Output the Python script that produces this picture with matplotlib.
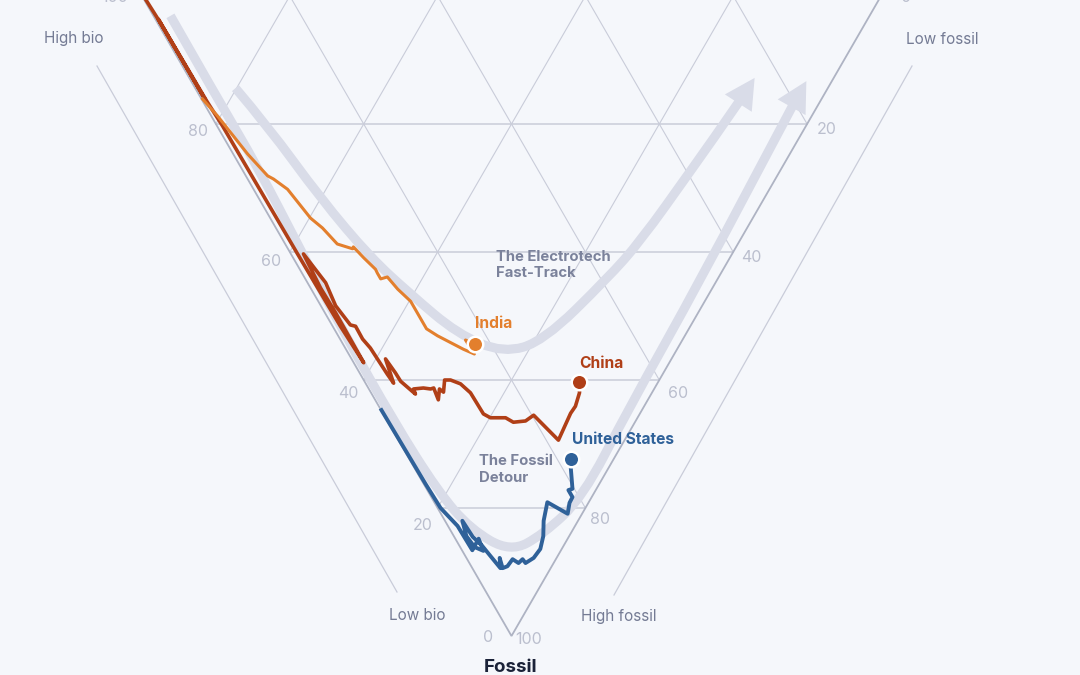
import matplotlib.pyplot as plt
from matplotlib.path import Path
from matplotlib.patches import PathPatch, Polygon
import numpy as np

# shares in percent, electrotech is the rest
china_fossil = [0, 3.44, 16.25, 3.6, 16.4, 20.3, 40.3, 51.6, 57.3, 49.5, 45.6, 40.3, 44.8, 48.4, 51.4, 51.6, 53.6, 55, 59.1, 60.5,
                56.7, 58.9, 60.2, 62.2, 61.4, 61.25, 61.4, 61.25, 63.1, 61.4, 61.9, 60, 60, 60.6, 62, 65.3, 65.9, 65.9, 66.6, 66.4,
                65.5, 69.4, 65.2, 64.1, 62, 60.3]
china_bio = [99.8, 96.2, 83.3, 96.0, 83.05, 78.95, 58.8, 47.35, 41.35, 49.05, 53.05, 58.0, 52.75, 49.6, 46.1, 45.3, 43.35, 41.6, 37.25, 35.7,
             38.7, 36.25, 34.9, 31.9, 32.55, 31.3, 30.25, 29.9, 28.35, 29.05, 28.25, 29.05, 28.25, 26.6, 24.55, 21.15, 19.9, 17.85, 16.45, 14.9,
             14.25, 8.95, 9.4, 9.3, 9.8, 10.65]

india_fossil = [16.1, 18.75, 24.7, 28.1, 28.6, 30.2, 34.7, 36.25, 38.75, 39.5, 39.2, 40.9, 42.7, 43.3, 44.2, 43.9, 45.8, 47.7, 52, 53.1,
                55.2, 55.94, 53.75, 54.4]
india_bio = [83.75, 80.4, 73.35, 68.95, 67.9, 65.2, 59.85, 57.45, 54.2, 51.75, 51.8, 49.55, 47.05, 46.5, 45.6, 44.85, 42.5, 39.8, 35.5, 33.45,
             28.9, 27.05, 29.35, 27.7]

us_fossil = [64.7, 76.25, 80, 82.8, 86.6, 84.8, 86.7, 86.1, 84.4, 82, 84.5, 85.8, 87.5, 89.4, 87.8, 89.4, 89.1, 88, 88.6, 88,
             88.6, 87.8, 86.4, 84.4, 82, 79.1, 80.9, 79.2, 78.3, 77.2, 77, 73.75, 72.35]
us_bio = [35.25, 23.5, 19.6, 15.9, 12, 12.05, 10.45, 11.95, 13.9, 15.65, 13, 11.15, 9.1, 6.8, 7.7, 6.5, 6, 5.85, 4.75, 4.5,
          3.8, 3.1, 2.9, 3.5, 4.65, 5.6, 1.95, 2.55, 2.6, 3.7, 3.25, 5.1, 5.8]

# the two pale guide arrows, last pair is the arrow tip
fast_fossil = [14.4, 20.3, 31.6, 40.9, 46.6, 52.8, 55.8, 53.9, 44.1, 38.3, 27.35, 16.9, 12.8]
fast_bio = [80.15, 72.85, 60.05, 48.6, 40.35, 30.9, 23.2, 18.7, 14.95, 13.4, 12.1, 10.95, 10.7]
detour_fossil = [3.1, 15.94, 26.9, 39.1, 53.1, 66.4, 77.35, 83.3, 86.9, 84.1, 78.4, 64.8, 44.1, 17.7, 13.3]
detour_bio = [94.6, 81.85, 70.8, 59.25, 45.9, 32.75, 21.3, 13.9, 6.7, 3.65, 1.2, 1.9, 2.25, 3.4, 3.45]

grid_values = [20, 40, 60, 80]
left_ticks = ["100", "80", "60", "40", "20", "0"]
right_ticks = ["100", "80", "60", "40", "20", "0"]

BG = "#f5f7fb"
GRID = "#c9ccd9"
EDGE = "#aeb3c3"
PALE = "#d9dce8"
TICK = "#bbbfce"
TXT = "#747b94"
FONT = "Inter"

UNIT = 6.4  # px per percent of height
APEX_X, APEX_Y = 511.5, 636


def project(fossil, bio):
    fossil = np.asarray(fossil, dtype=float)
    bio = np.asarray(bio, dtype=float)
    elec = 100 - fossil - bio
    return (elec - bio) * np.tan(np.pi / 6), 100 - fossil


def px(x, y):
    return x / 1080, 1 - y / 675


fig = plt.figure(figsize=(10.8, 6.75), dpi=100, facecolor=BG)
ax = fig.add_axes([0, 0, 1, 1])
ax.set_facecolor(BG)
ax.set_xlim(-APEX_X / UNIT, (1080 - APEX_X) / UNIT)
ax.set_ylim((APEX_Y - 675) / UNIT, APEX_Y / UNIT)
ax.axis("off")

# triangular grid
for v in grid_values:
    rest = 100 - v
    x, y = project([v, v], [rest, 0])
    ax.plot(x, y, color=GRID, lw=1.1, zorder=1)
    x, y = project([rest, 0], [v, v])
    ax.plot(x, y, color=GRID, lw=0.8, zorder=1)
    x, y = project([rest, 0], [0, rest])
    ax.plot(x, y, color=GRID, lw=0.8, zorder=1)

x, y = project([0, 100, 0], [100, 0, 0])
ax.plot(x, y, color=EDGE, lw=1.3, zorder=1, solid_joinstyle="miter")

# pale lines either side of the triangle
for (x0, y0), (x1, y1) in [((97, 66), (397, 592)), ((912, 66), (614, 595))]:
    fx0, fy0 = px(x0, y0)
    fx1, fy1 = px(x1, y1)
    ax.plot([fx0, fx1], [fy0, fy1], color=GRID, lw=0.9, transform=ax.transAxes, zorder=1)


def guide(fossil, bio, head_len=30, head_half=16):
    x, y = project(fossil, bio)
    pts = np.column_stack([x, y])
    tip = pts[-1]
    body = pts[:-1]
    verts = [body[0]]
    codes = [Path.MOVETO]
    for i in range(1, len(body) - 1):
        verts += [body[i], (body[i] + body[i + 1]) / 2]
        codes += [Path.CURVE3, Path.CURVE3]
    # run a little way into the head so no gap shows
    verts.append(body[-1] + (tip - body[-1]) * 0.3)
    codes.append(Path.LINETO)
    ax.add_patch(PathPatch(Path(verts, codes), fc="none", ec=PALE, lw=6.6, capstyle="butt", zorder=2))
    d = tip - body[-1]
    d = d / np.hypot(*d)
    n = np.array([-d[1], d[0]])
    base = tip - d * head_len / UNIT
    ax.add_patch(Polygon([tip, base + n * head_half / UNIT, base - n * head_half / UNIT], fc=PALE, ec="none", zorder=2))


guide(fast_fossil, fast_bio)
guide(detour_fossil, detour_bio)

series = [
    (china_fossil, china_bio, "#b03f17", 2.6),
    (india_fossil, india_bio, "#e37f2d", 2.2),
    (us_fossil, us_bio, "#2f6199", 2.8),
]
for fossil, bio, col, lw in series:
    x, y = project(fossil, bio)
    ax.plot(x, y, color=col, lw=lw, zorder=3, solid_joinstyle="round")
    ax.scatter(x[-1], y[-1], s=125, color=col, edgecolor="white", linewidth=1.8, zorder=4)

# tick labels
left_pos = [(115, -2), (198, 132), (271, 261), (348, 394), (423, 525), (488, 638)]
right_pos = [(529, 639), (600, 519), (678, 394), (751, 258), (827, 130), (906, -2)]
for lab, (x, y) in zip(left_ticks, left_pos):
    fx, fy = px(x, y)
    fig.text(fx, fy, lab, color=TICK, fontsize=11.5, family=FONT, ha="center", va="center")
for lab, (x, y) in zip(right_ticks, right_pos):
    fx, fy = px(x, y)
    fig.text(fx, fy, lab, color=TICK, fontsize=11.5, family=FONT, ha="center", va="center")

labels = [("High bio", 74, 39), ("Low bio", 417, 616), ("High fossil", 619, 616), ("Low fossil", 942, 39)]
for lab, x, y in labels:
    fx, fy = px(x, y)
    fig.text(fx, fy, lab, color=TXT, fontsize=11, family=FONT, ha="center", va="center")

fx, fy = px(511, 668)
fig.text(fx, fy, "Fossil", color="#1b2238", fontsize=13.5, fontweight="bold", family=FONT, ha="center", va="center")

for lab, x, y in [("The Electrotech", 496, 257), ("Fast-Track", 496, 273), ("The Fossil", 479, 461), ("Detour", 479, 478)]:
    fx, fy = px(x, y)
    fig.text(fx, fy, lab, color="#7b829b", fontsize=10.7, fontweight="bold", family=FONT, ha="left", va="center")

for lab, x, y, col in [("India", 475, 323, "#e37f2d"), ("China", 579, 364, "#b03f17"), ("United States", 572, 439, "#2f6199")]:
    fx, fy = px(x, y)
    fig.text(fx, fy, lab, color=col, fontsize=11.2, fontweight="bold", family=FONT, ha="left", va="center")

fig.savefig("out.png", dpi=100, facecolor=BG)
